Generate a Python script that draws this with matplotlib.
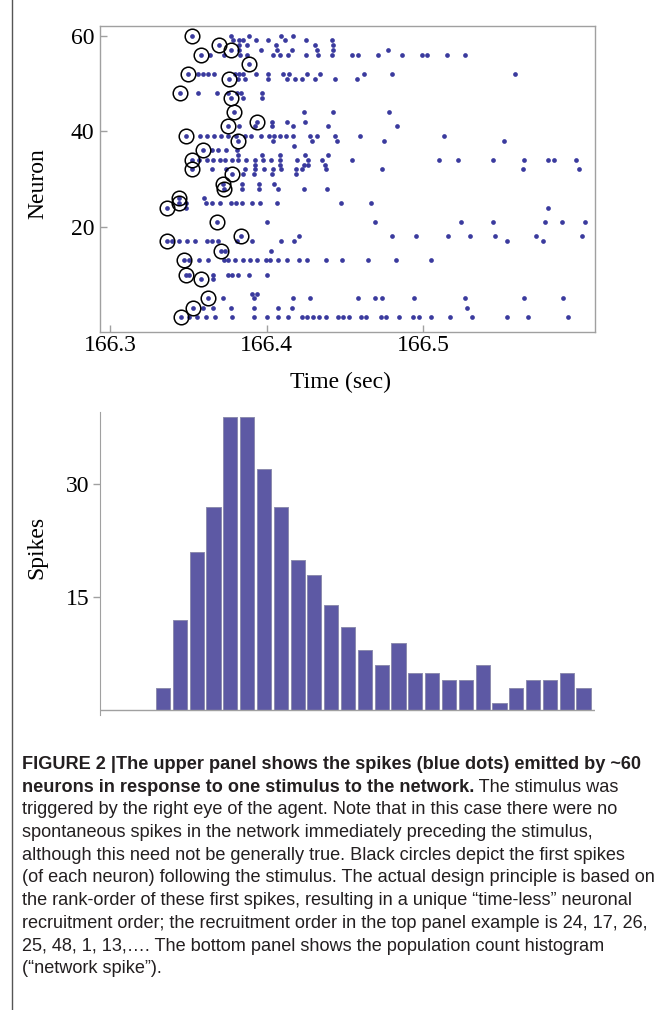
import numpy as np
import matplotlib
matplotlib.use('Agg')
import matplotlib.pyplot as plt
from matplotlib import font_manager
from matplotlib.lines import Line2D
from matplotlib.ticker import FormatStrFormatter

#=============== data ===============
# raster: neuron number and its spike times (sec)
neuron_ids = [60, 59, 58, 57, 56, 54, 52, 51, 48, 47, 44, 42, 41, 39, 38, 37,
              36, 35, 34, 33, 32, 31, 29, 28, 26, 25, 24, 21, 18, 17, 15, 13,
              10, 9, 6, 5, 3, 1]
spike_times = [
    [166.3523, 166.3772, 166.3887, 166.4091, 166.4168],
    [166.3785, 166.3823, 166.3849, 166.3932, 166.4008, 166.4117, 166.4251, 166.4417],
    [166.3696, 166.3823, 166.3874, 166.4059, 166.4308, 166.4423],
    [166.3772, 166.3823, 166.3964, 166.4066, 166.4162, 166.4321, 166.4423, 166.4774],
    [166.3581, 166.3638, 166.3728, 166.3830, 166.3874, 166.4040, 166.4085, 166.4136,
     166.4251, 166.4327, 166.4417, 166.4544, 166.4583, 166.4710, 166.4864, 166.4991,
     166.5023, 166.5151, 166.5266],
    [166.3887],
    [166.3498, 166.3562, 166.3594, 166.3625, 166.3664, 166.3798, 166.3823, 166.3849,
     166.3932, 166.4008, 166.4104, 166.4142, 166.4257, 166.4340, 166.4621, 166.4800,
     166.5585],
    [166.3759, 166.3817, 166.3862, 166.4008, 166.4130, 166.4181, 166.4225, 166.4308,
     166.4436, 166.4576],
    [166.3447, 166.3562, 166.3683, 166.3753, 166.3811, 166.3836, 166.3970],
    [166.3772, 166.3849, 166.3970],
    [166.3791, 166.4238, 166.4423, 166.4781],
    [166.3938, 166.4034, 166.4130, 166.4244],
    [166.3753, 166.3823, 166.3925, 166.4034, 166.4168, 166.4391, 166.4832],
    [166.3485, 166.3574, 166.3619, 166.3664, 166.3708, 166.3753, 166.3804, 166.3862,
     166.3900, 166.3964, 166.4015, 166.4047, 166.4085, 166.4123, 166.4168, 166.4276,
     166.4321, 166.4436, 166.4596, 166.5132],
    [166.3817, 166.4040, 166.4289, 166.4449, 166.4749, 166.5515],
    [166.4174],
    [166.3594, 166.3651, 166.3689, 166.3740, 166.3811],
    [166.3817, 166.3970, 166.4085, 166.4244, 166.4391],
    [166.3523, 166.3568, 166.3619, 166.3657, 166.3702, 166.3734, 166.3779, 166.3817,
     166.3868, 166.3925, 166.3976, 166.4028, 166.4085, 166.4193, 166.4264, 166.4353,
     166.4544, 166.5100, 166.5221, 166.5444, 166.5642, 166.5795, 166.5834, 166.5974],
    [166.3925, 166.4085, 166.4238, 166.4264, 166.4372],
    [166.3523, 166.3651, 166.3740, 166.3862, 166.3925, 166.3983, 166.4040, 166.4091,
     166.4187, 166.4225, 166.4379, 166.4736, 166.5636, 166.5993],
    [166.3779, 166.3849, 166.3919, 166.4034, 166.4187],
    [166.3721, 166.3842, 166.3951, 166.4047],
    [166.3728, 166.3842, 166.3951, 166.4072, 166.4238, 166.4385],
    [166.3438, 166.3600],
    [166.3441, 166.3485, 166.3613, 166.3651, 166.3702, 166.3772, 166.3804, 166.3842,
     166.3906, 166.3957, 166.4066, 166.4474, 166.4666],
    [166.3363, 166.3485, 166.5795],
    [166.3683, 166.4002, 166.4691, 166.5240, 166.5444, 166.5776, 166.5885, 166.6031],
    [166.3836, 166.4206, 166.4800, 166.4953, 166.5157, 166.5298, 166.5457, 166.5719,
     166.6012],
    [166.3365, 166.3396, 166.3440, 166.3491, 166.3542, 166.3619, 166.3651, 166.3689,
     166.3811, 166.3906, 166.4091, 166.4174, 166.5534, 166.5763],
    [166.3708, 166.3734, 166.4028],
    [166.3472, 166.3504, 166.3568, 166.3625, 166.3728, 166.3753, 166.3798, 166.3849,
     166.3893, 166.3938, 166.3996, 166.4021, 166.4072, 166.4130, 166.4206, 166.4257,
     166.4379, 166.4481, 166.4647, 166.4825, 166.5049],
    [166.3485, 166.3504, 166.3657, 166.3753, 166.3779, 166.3817, 166.3887, 166.4002],
    [166.3581, 166.3657],
    [166.3906, 166.3938],
    [166.3625, 166.3721, 166.3919, 166.4168, 166.4276, 166.4583, 166.4691, 166.4736,
     166.4940, 166.5266, 166.5642, 166.5891],
    [166.3530, 166.3594, 166.3657, 166.3772, 166.3919, 166.4072, 166.4162, 166.5278],
    [166.3453, 166.3504, 166.3555, 166.3613, 166.3670, 166.3779, 166.3919, 166.4002,
     166.4072, 166.4136, 166.4225, 166.4257, 166.4296, 166.4334, 166.4379, 166.4455,
     166.4487, 166.4525, 166.4602, 166.4634, 166.4730, 166.4761, 166.4844, 166.4934,
     166.4972, 166.5049, 166.5170, 166.5310, 166.5534, 166.5668, 166.5923],
]

# neurons whose first spike carries a black circle in the picture
circled_neurons = [60, 58, 57, 56, 54, 52, 51, 48, 47, 44, 42, 41, 39, 38, 36,
                   34, 32, 31, 29, 28, 26, 25, 24, 21, 18, 17, 15, 13, 10, 9,
                   5, 3, 1]

# population count histogram (one value per time bin)
hist_counts = [0, 0, 0, 3, 12, 21, 27, 39, 39, 32, 27, 20, 18, 14, 11, 8, 6, 9,
               5, 5, 4, 4, 6, 1, 3, 4, 4, 5, 3]

neuron_ticks = [20, 40, 60]
time_ticks = [166.3, 166.4, 166.5]
spike_ticks = [15, 30]

caption = [
    [("FIGURE 2 |The upper panel shows the spikes (blue dots) emitted by ~60", "bold")],
    [("neurons in response to one stimulus to the network.", "bold"),
     (" The stimulus was", "normal")],
    [("triggered by the right eye of the agent. Note that in this case there were no", "normal")],
    [("spontaneous spikes in the network immediately preceding the stimulus,", "normal")],
    [("although this need not be generally true. Black circles depict the first spikes", "normal")],
    [("(of each neuron) following the stimulus. The actual design principle is based on", "normal")],
    [("the rank-order of these first spikes, resulting in a unique \u201ctime-less\u201d neuronal", "normal")],
    [("recruitment order; the recruitment order in the top panel example is 24, 17, 26,", "normal")],
    [("25, 48, 1, 13,\u2026. The bottom panel shows the population count histogram", "normal")],
    [("(\u201cnetwork spike\u201d).", "normal")],
]

#=============== style ===============
W, H = 657, 1010
DOT = '#3a3a9e'
BAR = '#5d59a4'
FRAME = '#a0a0a0'
SERIF = ['Liberation Serif', 'DejaVu Serif']
names = {f.name for f in font_manager.fontManager.ttflist}
SANS = 'Liberation Sans Narrow' if 'Liberation Sans Narrow' in names else 'Liberation Sans'


def box(l, t, r, b):
    # pixel box -> figure fraction
    return [l / W, 1 - b / H, (r - l) / W, (b - t) / H]


fig = plt.figure(figsize=(W / 100, H / 100), dpi=100)

#=============== raster ===============
ax1 = fig.add_axes(box(100, 26, 595, 332.3))
for nid, times in zip(neuron_ids, spike_times):
    ax1.plot(times, [nid] * len(times), 'o', color=DOT, ms=3.4, mec='none')
first_t = [min(t) for n, t in zip(neuron_ids, spike_times) if n in circled_neurons]
first_n = [n for n in neuron_ids if n in circled_neurons]
ax1.plot(first_t, first_n, 'o', mfc='none', mec='black', ms=10.5, mew=1.1)

ax1.set_xlim(166.2936, 166.6095)
ax1.set_ylim(-2.1, 62.03)
ax1.set_xticks(time_ticks)
ax1.set_yticks(neuron_ticks)
ax1.xaxis.set_major_formatter(FormatStrFormatter('%.1f'))
for sp in ax1.spines.values():
    sp.set_color(FRAME)
    sp.set_linewidth(1)
ax1.tick_params(direction='in', length=5, width=1, color=FRAME, labelsize=17)
ax1.tick_params(axis='x', pad=2)
ax1.tick_params(axis='y', pad=4)
for lab in ax1.get_xticklabels() + ax1.get_yticklabels():
    lab.set_family(SERIF)
ax1.set_xlabel('Time (sec)', fontsize=17, family=SERIF)
ax1.set_ylabel('Neuron', fontsize=17, family=SERIF)
ax1.xaxis.set_label_coords(0.485, -0.165)
ax1.xaxis.label.set_va('center')
ax1.yaxis.set_label_coords(-0.125, 0.487)
ax1.yaxis.label.set_va('center')

#=============== histogram ===============
ax2 = fig.add_axes(box(100.3, 411.7, 595, 715))
xpos = np.arange(len(hist_counts)) + 0.5
ax2.bar(xpos, hist_counts, width=0.84, color=BAR, edgecolor='#8c8cae', linewidth=0.7)
ax2.axhline(0, color=FRAME, lw=1)
ax2.set_xlim(-0.23, 29.18)
ax2.set_ylim(-0.62, 39.64)
ax2.set_xticks([])
ax2.set_yticks(spike_ticks)
for s in ['top', 'right', 'bottom']:
    ax2.spines[s].set_visible(False)
ax2.spines['left'].set_color(FRAME)
ax2.tick_params(axis='y', direction='out', length=5, width=1, color=FRAME,
                labelsize=17, pad=3)
for lab in ax2.get_yticklabels():
    lab.set_family(SERIF)
ax2.set_ylabel('Spikes', fontsize=17, family=SERIF)
ax2.yaxis.set_label_coords(-0.128, 0.554)
ax2.yaxis.label.set_va('center')

#=============== caption ===============
fig.add_artist(Line2D([12 / W, 12 / W], [0, 1], transform=fig.transFigure,
                      color='#555555', lw=1))

renderer = fig.canvas.get_renderer()
probe = fig.text(0, 0, caption[2][0][0], fontsize=12, family=SANS)
cap_size = 12 * 596 / probe.get_window_extent(renderer).width
probe.remove()

x0 = 21.7
base0 = 769
step = 22.7
for i, parts in enumerate(caption):
    x = x0
    y = 1 - (base0 + i * step) / H
    for txt, wt in parts:
        t = fig.text(x / W, y, txt, fontsize=cap_size, family=SANS, weight=wt,
                     color='#231f20', ha='left', va='baseline')
        x += t.get_window_extent(renderer).width

fig.savefig('out.png', dpi=100)
